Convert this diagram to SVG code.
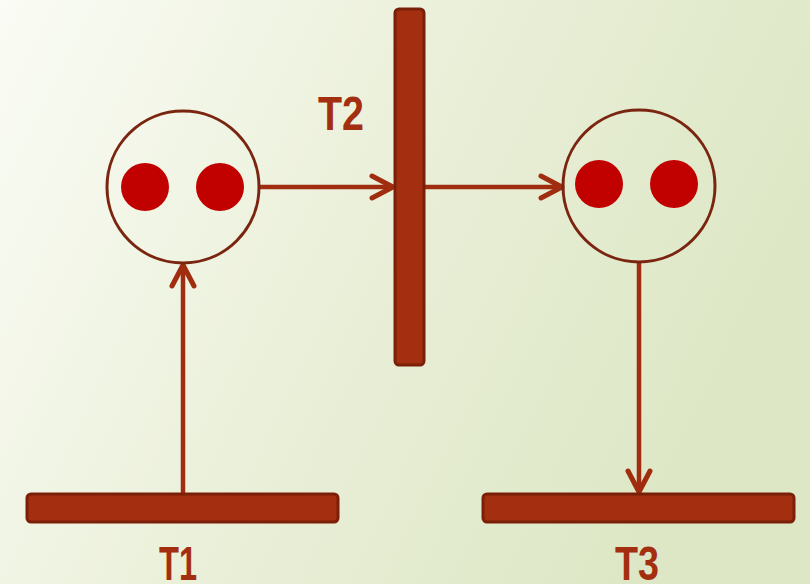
<svg xmlns="http://www.w3.org/2000/svg" width="810" height="584" viewBox="0 0 810 584">
<defs>
<linearGradient id="bg" x1="0" y1="0" x2="1" y2="0.35">
<stop offset="0" stop-color="#fafcf5"/>
<stop offset="0.5" stop-color="#ebf0da"/>
<stop offset="1" stop-color="#dde7c5"/>
</linearGradient>
<marker id="arr" viewBox="0 0 30 30" refX="26" refY="15" markerWidth="30" markerHeight="30" markerUnits="userSpaceOnUse" orient="auto">
<path d="M5 4 L26 15 L5 26" fill="none" stroke="#a02d10" stroke-width="5" stroke-linecap="round" stroke-linejoin="round"/>
</marker>
</defs>
<style>
.bar{fill:#a32e10;stroke:#7a2008;stroke-width:3}
.place{fill:none;stroke:#7a2510;stroke-width:3}
.tok{fill:#c10000}
.edge{fill:none;stroke:#a02d10;stroke-width:4.5;marker-end:url(#arr)}
.lbl{font-family:"Liberation Sans",Arial,sans-serif;font-weight:bold;font-size:48px;fill:#a32e10;text-anchor:middle}
</style>
<rect width="810" height="584" fill="url(#bg)"/>
<g id="connectors">
<line class="edge" x1="259" y1="187" x2="393" y2="187"/>
<line class="edge" x1="425" y1="187" x2="562" y2="187"/>
<line class="edge" x1="183" y1="493" x2="183" y2="265"/>
<line class="edge" x1="639" y1="262" x2="639" y2="492"/>
</g>
<g id="P1">
<circle class="place" cx="183" cy="187" r="76"/>
<circle class="tok" cx="145" cy="187" r="24"/>
<circle class="tok" cx="220" cy="187" r="24"/>
</g>
<g id="P2">
<circle class="place" cx="639" cy="186" r="76"/>
<circle class="tok" cx="599" cy="184" r="24"/>
<circle class="tok" cx="674" cy="184" r="24"/>
</g>
<g id="T2">
<rect class="bar" x="395" y="9" width="29" height="356" rx="4"/>
<text class="lbl" x="341" y="130" textLength="46" lengthAdjust="spacingAndGlyphs">T2</text>
</g>
<g id="T1">
<rect class="bar" x="27" y="494" width="311" height="28" rx="4"/>
<text class="lbl" x="178" y="580" textLength="38" lengthAdjust="spacingAndGlyphs">T1</text>
</g>
<g id="T3">
<rect class="bar" x="483" y="494" width="311" height="28" rx="4"/>
<text class="lbl" x="637" y="580" textLength="44" lengthAdjust="spacingAndGlyphs">T3</text>
</g>
</svg>
